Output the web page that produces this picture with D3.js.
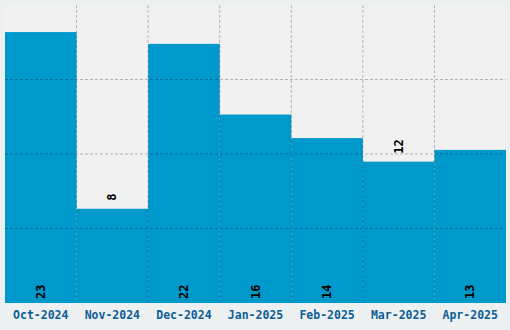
<!DOCTYPE html>
<html>
<head>
<meta charset="utf-8">
<script src="https://cdn.jsdelivr.net/npm/d3@7"></script>
<style>
  body { margin: 0; background: #edf0f0; }
  svg { display: block; }
</style>
</head>
<body>
<div id="chart"></div>
<script>
let months = ["Oct-2024", "Nov-2024", "Dec-2024", "Jan-2025", "Feb-2025", "Mar-2025", "Apr-2025"];
let counts = [23, 8, 22, 16, 14, 12, 13];

let margin = { top: 5, right: 4, bottom: 27, left: 5 },
    width = 510 - margin.left - margin.right,
    height = 330 - margin.top - margin.bottom;

let svg = d3.select("#chart").append("svg")
    .attr("width", 510)
    .attr("height", 330)
    .append("g")
    .attr("transform", "translate(" + margin.left + "," + margin.top + ")");

let x = d3.scaleBand().domain(months).range([0, width]).padding(0);
let y = d3.scaleLinear().domain([0, d3.max(counts) * 1.1]).range([height, 0]);

// plot background
svg.append("rect")
    .attr("width", width)
    .attr("height", height)
    .attr("fill", "#f1f1f1");

// bars
svg.selectAll(".bar")
    .data(counts)
    .enter()
    .append("rect")
    .attr("class", "bar")
    .attr("x", (d, i) => x(months[i]))
    .attr("width", x.bandwidth())
    .attr("y", d => y(d))
    .attr("height", d => height - y(d))
    .attr("fill", "#0099cc");

// grid on top of bars
let yTicks = [1, 2, 3].map(k => y.domain()[1] * k / 4);
svg.selectAll(".hgrid")
    .data(yTicks)
    .enter()
    .append("line")
    .attr("x1", 0).attr("x2", width)
    .attr("y1", d => y(d)).attr("y2", d => y(d))
    .attr("stroke", "rgba(0,0,0,0.25)")
    .attr("stroke-dasharray", "3,2");

svg.selectAll(".vgrid")
    .data(months.slice(1))
    .enter()
    .append("line")
    .attr("x1", d => x(d)).attr("x2", d => x(d))
    .attr("y1", 0).attr("y2", height)
    .attr("stroke", "rgba(0,0,0,0.25)")
    .attr("stroke-dasharray", "3,2");

// value labels (inside bottom, or above short bars)
svg.selectAll(".val")
    .data(counts)
    .enter()
    .append("text")
    .attr("transform", (d, i) => {
        let cx = x(months[i]) + x.bandwidth() / 2 + 4;
        let cy = d <= 12 ? y(d) - 8 : height - 4;
        return "translate(" + cx + "," + cy + ") rotate(-90)";
    })
    .style("font-family", "'DejaVu Sans Mono', monospace")
    .style("font-weight", "bold")
    .style("font-size", "12px")
    .attr("fill", "#000")
    .text(d => d);

// x axis labels
svg.selectAll(".xl")
    .data(months)
    .enter()
    .append("text")
    .attr("x", d => x(d) + x.bandwidth() / 2)
    .attr("y", height + 16)
    .style("text-anchor", "middle")
    .style("font-family", "'DejaVu Sans Mono', monospace")
    .style("font-weight", "bold")
    .style("font-size", "11.5px")
    .attr("fill", "#0d5e96")
    .text(d => d);
</script>
</body>
</html>
